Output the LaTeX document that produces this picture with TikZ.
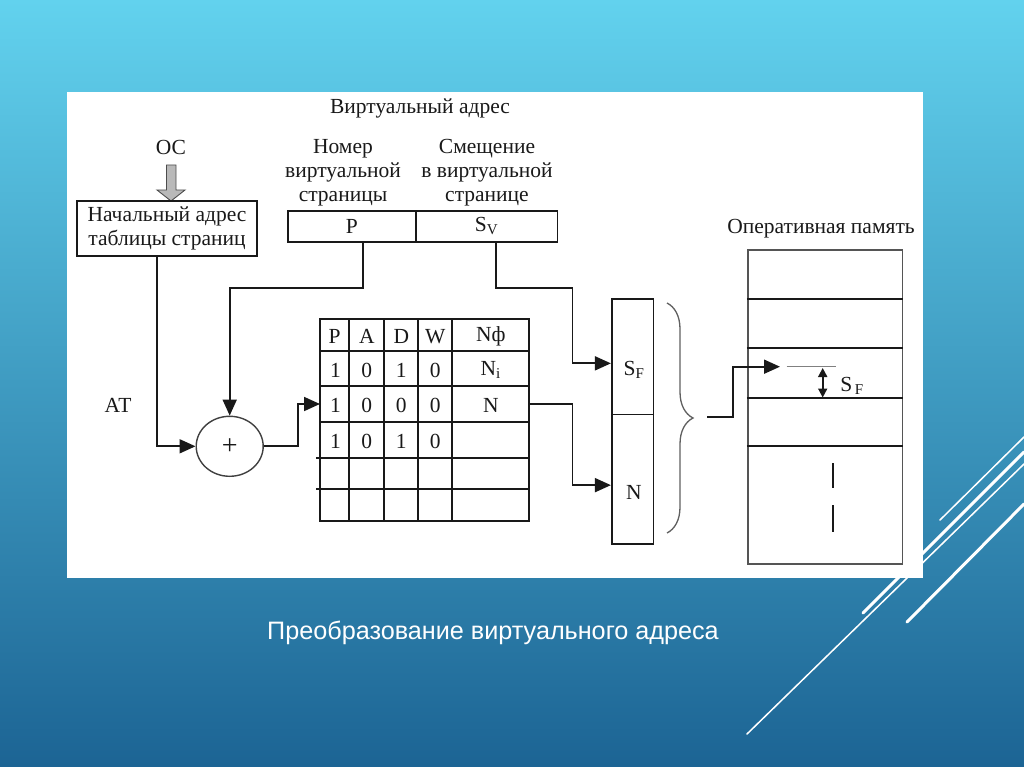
\documentclass[tikz,border=0pt]{standalone}
\usepackage{fontspec}
\setmainfont{Liberation Serif}
\newfontfamily\capfont{Liberation Sans}
\usetikzlibrary{arrows.meta,decorations.pathreplacing,shapes.geometric}
\definecolor{bgtop}{RGB}{98,210,238}
\definecolor{bgbot}{RGB}{28,100,148}
\definecolor{memgray}{RGB}{85,85,85}
\definecolor{ink}{RGB}{25,25,25}
\begin{document}
\begin{tikzpicture}[x=1pt,y=-1pt,
  lbl/.style={font=\fontsize{21.5}{24}\selectfont, text=ink, inner sep=0pt, align=center},
  conn/.style={line width=1.8pt, ink},
  arr/.style={conn, -{Triangle[length=16pt,width=14pt]}},
  tline/.style={line width=2pt, ink},
  boxst/.style={draw=ink, line width=1.6pt, inner sep=0pt, text=ink, font=\fontsize{21.5}{24}\selectfont, align=center},
  deco/.style={white, line cap=round}
]
\useasboundingbox (0,0) rectangle (1024,767);
\shade[top color=bgtop, bottom color=bgbot] (0,0) rectangle (1024,767);
% decorative lines
\draw[deco, line width=1.5pt] (940,520) -- (1024,437);
\draw[deco, line width=3pt] (863,613) -- (1024,452);
\draw[deco, line width=1.5pt] (747,734) -- (1024,464);
\draw[deco, line width=3pt] (907,622) -- (1024,504);
% panel
\fill[white] (67,92) rectangle (923,578);

% OS and start box
\node[lbl] (os) at (171,147) {ОС};
\filldraw[fill=gray!55, draw=gray!60!black, line width=0.9pt]
  (166.5,165) -- (176,165) -- (176,190) -- (185,190) -- (171,201) -- (157,190) -- (166.5,190) -- cycle;
\node[boxst, minimum width=180pt, minimum height=55pt] (start) at (167,228.5)
  {\raisebox{-2pt}{Начальный адрес}\\\raisebox{-2pt}{таблицы страниц}};
\node[lbl] (at) at (118,405) {АТ};

% virtual address
\node[lbl] (va) at (420,108) {Виртуальный адрес};
\node[lbl] (nom) at (343,172.5) {Номер\\виртуальной\\страницы};
\node[lbl] (sme) at (487,172.5) {Смещение\\в виртуальной\\странице};
\node[boxst, minimum width=128.3pt, minimum height=30.7pt] (pbox) at (351.85,226.35) {P};
\node[boxst, minimum width=141.3pt, minimum height=30.7pt] (svbox) at (486.65,226.35) {S\textsubscript{V}};

% adder
\node[draw=gray!50!black, ellipse, line width=1.4pt, minimum width=67pt, minimum height=60pt,
  inner sep=0pt, text=ink, font=\fontsize{28}{30}\selectfont] (plus) at (229.7,446.3) {+};

% table
\draw[tline] (320,319.3) rectangle (529.3,520.7);
\foreach \x in {349.3,384.3,418.3,452.3} \draw[tline] (\x,319.3) -- (\x,520.7);
\foreach \y in {351,386,421.7} \draw[tline] (320,\y) -- (529.3,\y);
\foreach \y in {458.3,489.3} \draw[tline] (316,\y) -- (529.3,\y);
\foreach \t [count=\i] in {P,A,D,W,Nф}{
  \pgfmathsetmacro{\cx}{{334.7,366.8,401.3,435.3,490.8}[\i-1]}
  \node[lbl] (h\i) at (\cx,336.5) {\t};
}
\foreach \t [count=\i] in {1,0,1,0,N\textsubscript{i}}{
  \pgfmathsetmacro{\cx}{{335.5,366.8,401.3,435.3,490.8}[\i-1]}
  \node[lbl] (ra\i) at (\cx,370) {\t};
}
\foreach \t [count=\i] in {1,0,0,0,N}{
  \pgfmathsetmacro{\cx}{{335.5,366.8,401.3,435.3,490.8}[\i-1]}
  \node[lbl] (rb\i) at (\cx,405.5) {\t};
}
\foreach \t [count=\i] in {1,0,1,0}{
  \pgfmathsetmacro{\cx}{{335.5,366.8,401.3,435.3}[\i-1]}
  \node[lbl] (rc\i) at (\cx,441.5) {\t};
}
\coordinate (tin) at (320,404);
\coordinate (tout) at (529.3,404);

% physical address box
\node[draw=ink, line width=1.6pt, minimum width=41.6pt, minimum height=115.3pt, inner sep=0pt] (sfbox) at (632.5,356.65) {};
\node[draw=ink, line width=1.6pt, minimum width=41.6pt, minimum height=129.7pt, inner sep=0pt] (nbox) at (632.5,479.15) {};
\node[lbl] (sft) at (634,370) {S\textsubscript{F}};
\node[lbl] (nt) at (634,492) {N};

% brace
\coordinate (brtop) at (667,303);
\coordinate (brbot) at (667,533);
\draw[gray!75!black, line width=1.3pt, decorate, decoration={brace, amplitude=26pt}] (brtop) -- (brbot);
\coordinate (brout) at (707,417);

% memory
\node[lbl] (opm) at (821,229) {Оперативная память};
\node[draw=memgray, line width=1.6pt, minimum width=154.6pt, minimum height=314pt, inner sep=0pt] (mem) at (825,407) {};
\foreach \y in {299,348.3,398.3,446} \draw[conn] (mem.west |- 0,\y) -- (mem.east |- 0,\y);
\coordinate (sfmark) at (780,366.7);
\draw[gray, line width=1pt] (786.7,366.7) -- (836,366.7);
\draw[conn, {Triangle[length=9pt,width=9pt]}-{Triangle[length=9pt,width=9pt]}] (822.7,368) -- (822.7,397.5);
\node[lbl] (sf2) at (852,386) {S\textsubscript{\,F}};
\draw[conn] (832.7,463) -- (832.7,488);
\draw[conn] (832.7,505) -- (832.7,532);

% connectors
\draw[arr] ([xshift=-10.3pt]start.south) |- (plus.west);
\draw[arr] ([xshift=10.85pt]pbox.south) -- ++(0,45.6) -| (plus.north);
\draw[arr] (plus.east) -- ++(34,0) |- (tin);
\draw[arr] ([xshift=9.4pt]svbox.south) -- ++(0,45.6) -| ([xshift=-38.4pt,yshift=-6.7pt]sfbox.west) -- ([yshift=-6.7pt]sfbox.west);
\draw[arr] (tout) -| ([xshift=-38.4pt,yshift=-6pt]nbox.west) -- ([yshift=-6pt]nbox.west);
\draw[arr] (brout) -- ++(25.7,0) |- (sfmark);

% caption
\node[font=\capfont\fontsize{25.2}{28}\selectfont, text=white, inner sep=0pt] (cap) at (493,633) {Преобразование виртуального адреса};
\end{tikzpicture}
\end{document}
